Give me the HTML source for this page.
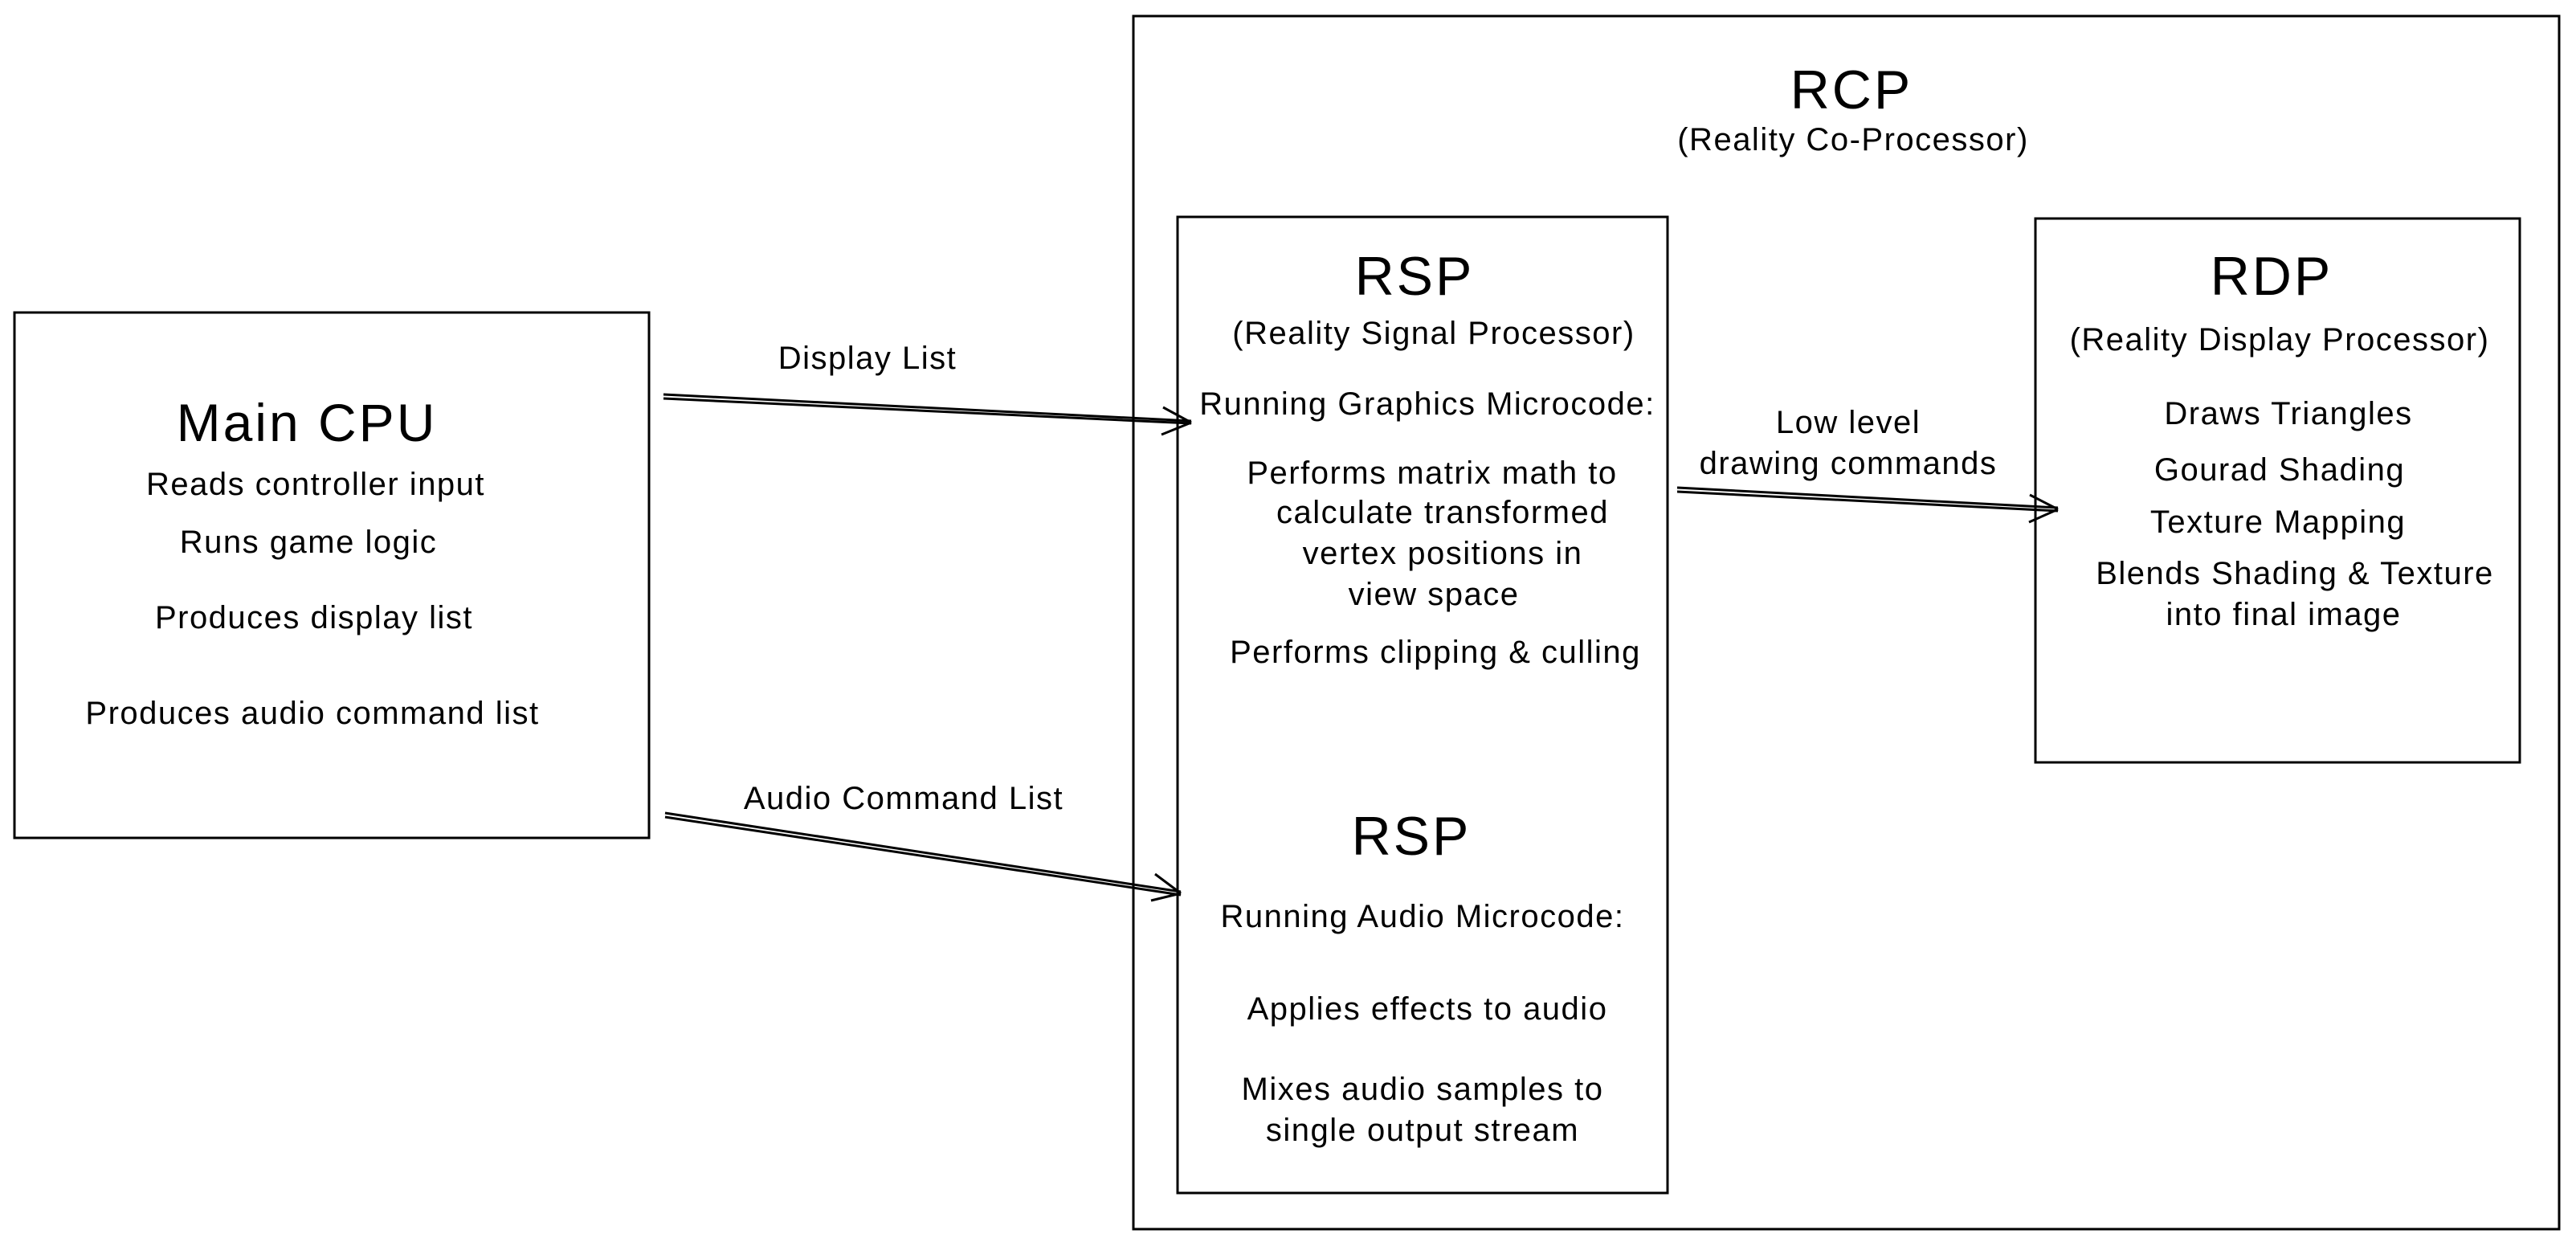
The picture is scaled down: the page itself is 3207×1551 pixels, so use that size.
<!DOCTYPE html>
<html><head><meta charset="utf-8"><style>html,body{margin:0;padding:0;background:#fff}svg{display:block}</style></head>
<body>
<svg width="3207" height="1551" viewBox="0 0 3207 1551" xmlns="http://www.w3.org/2000/svg">
<rect width="3207" height="1551" fill="#fff"/>
<g fill="none" stroke="#000" stroke-width="3">
<rect x="18" y="389" width="790" height="654"/>
<rect x="1411" y="20" width="1775" height="1510"/>
<rect x="1466" y="270" width="610" height="1215"/>
<rect x="2534" y="272" width="603" height="677"/>
<path d="M826 491 L1483 524 M826 496 L1483 527"/>
<path d="M1483 526 L1448 507 M1483 526 L1446 541"/>
<path d="M828 1012 L1470 1110 M828 1017 L1470 1114"/>
<path d="M1470 1112 L1438 1088 M1470 1112 L1433 1121"/>
<path d="M2088 607 L2562 632 M2088 612 L2562 636"/>
<path d="M2562 634 L2527 616 M2562 634 L2526 650"/>
</g>
<g font-family="Liberation Sans, sans-serif" text-anchor="middle" dominant-baseline="central" fill="#000">
<text x="382" y="526" font-size="66" letter-spacing="3">Main CPU</text>
<g font-size="40" letter-spacing="1.5">
<text x="393" y="603">Reads controller input</text>
<text x="384" y="675">Runs game logic</text>
<text x="391" y="769">Produces display list</text>
<text x="389" y="888">Produces audio command list</text>
<text x="1080" y="446">Display List</text>
<text x="1125" y="994">Audio Command List</text>
<text x="2307" y="174">(Reality Co-Processor)</text>
<text x="1785" y="415">(Reality Signal Processor)</text>
<text x="1777" y="503">Running Graphics Microcode:</text>
<text x="1783" y="589">Performs matrix math to</text>
<text x="1796" y="638">calculate transformed</text>
<text x="1796" y="689">vertex positions in</text>
<text x="1785" y="740">view space</text>
<text x="1787" y="812">Performs clipping &amp; culling</text>
<text x="1771" y="1141">Running Audio Microcode:</text>
<text x="1777" y="1256">Applies effects to audio</text>
<text x="1771" y="1356">Mixes audio samples to</text>
<text x="1771" y="1407">single output stream</text>
<text x="2301" y="526">Low level</text>
<text x="2301" y="577">drawing commands</text>
<text x="2838" y="423">(Reality Display Processor)</text>
<text x="2849" y="515">Draws Triangles</text>
<text x="2838" y="585">Gourad Shading</text>
<text x="2836" y="650">Texture Mapping</text>
<text x="2857" y="714">Blends Shading &amp; Texture</text>
<text x="2843" y="765">into final image</text>
</g>
<g font-size="68" letter-spacing="3">
<text x="2305" y="112">RCP</text>
<text x="1761" y="344">RSP</text>
<text x="1757" y="1041">RSP</text>
<text x="2828" y="344">RDP</text>
</g>
</g>
</svg>
</body></html>
